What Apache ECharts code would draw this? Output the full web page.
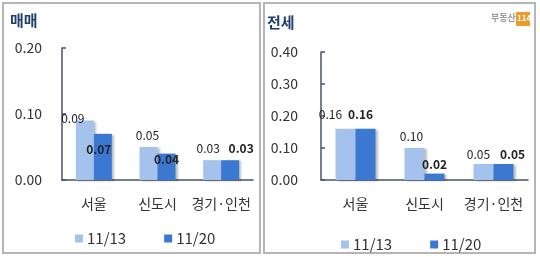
<!DOCTYPE html>
<html><head><meta charset="utf-8">
<script src="https://cdn.jsdelivr.net/npm/echarts@6/dist/echarts.min.js"></script>
<style>html,body{margin:0;padding:0;background:#fff}#c{width:540px;height:257px}</style>
</head><body><div id="c"></div>
<script>
// ---- data ----
const categories = ['서울', '신도시', '경기·인천'];
const seriesNames = ['11/13', '11/20'];
const saleTitle = '매매';
const rentTitle = '전세';
const sale1113 = [0.09, 0.05, 0.03];
const sale1120 = [0.07, 0.04, 0.03];
const rent1113 = [0.16, 0.10, 0.05];
const rent1120 = [0.16, 0.02, 0.05];
const saleTicks = { min: 0, max: 0.20, interval: 0.10 };
const rentTicks = { min: 0, max: 0.40, interval: 0.10 };

// ---- layout / style (label nudges, not data) ----
const saleOffLight = [[-12, 4], [-1, -6], [-4, -6]];
const saleOffDark = [[-4, 22], [0, 12], [11, -6]];
const rentOffLight = [[-15, -8], [-3, -6], [-5, -4]];
const rentOffDark = [[-5, -8], [0, -3], [9, -4]];
const LIGHT = '#a4c2ec', DARK = '#3a78d2', AXIS = '#44546a';
const FONT = '"Noto Sans CJK KR", "Noto Sans", sans-serif';

function items(vals, offs) {
  return vals.map((v, i) => ({ value: v, label: { offset: offs[i] } }));
}
function barSeries(name, vals, offs, gi, color, bold, w) {
  return {
    type: 'bar', name, xAxisIndex: gi, yAxisIndex: gi,
    data: items(vals, offs),
    barWidth: w, barGap: '0%',
    itemStyle: { color, shadowColor: 'rgba(0,0,0,0.25)', shadowBlur: 2, shadowOffsetX: 2, shadowOffsetY: 1 },
    label: {
      show: true, position: 'top', distance: 0,
      formatter: p => p.value.toFixed(2),
      fontFamily: FONT, fontSize: 12, color: '#222',
      fontWeight: bold ? 'bold' : 'normal'
    }
  };
}
function yAxis(gi, t, margin) {
  return {
    type: 'value', gridIndex: gi, min: t.min, max: t.max, interval: t.interval,
    axisLine: { show: true, lineStyle: { color: AXIS, width: 1.5 } },
    axisTick: { show: true, inside: true, length: 4, lineStyle: { color: AXIS, width: 1.5 } },
    splitLine: { show: false },
    axisLabel: { formatter: v => v.toFixed(2), fontFamily: FONT, fontSize: 14, color: '#333', margin }
  };
}
function xAxis(gi) {
  return {
    type: 'category', gridIndex: gi, data: categories,
    axisLine: { show: true, lineStyle: { color: AXIS, width: 1.5 } },
    axisTick: { show: false },
    axisLabel: { interval: 0, fontFamily: FONT, fontSize: 14, color: '#333', margin: 17 }
  };
}
function legend(left, top) {
  return {
    data: seriesNames, left, top, icon: 'rect', itemWidth: 8, itemHeight: 8, itemGap: 38,
    textStyle: { fontFamily: FONT, fontSize: 15, color: '#333', padding: [0, 0, 0, -1] }
  };
}

const chart = echarts.init(document.getElementById('c'), null, { renderer: 'canvas' });
chart.setOption({
  animation: false,
  grid: [
    { left: 62, right: 287, top: 48, bottom: 77 },
    { left: 321, right: 12, top: 52, bottom: 77 }
  ],
  xAxis: [xAxis(0), xAxis(1)],
  yAxis: [yAxis(0, saleTicks, 20), yAxis(1, rentTicks, 23)],
  legend: [legend(70, 226), legend(336, 232)],
  series: [
    barSeries(seriesNames[0], sale1113, saleOffLight, 0, LIGHT, false, 18),
    barSeries(seriesNames[1], sale1120, saleOffDark, 0, DARK, true, 18),
    barSeries(seriesNames[0], rent1113, rentOffLight, 1, LIGHT, false, 20),
    barSeries(seriesNames[1], rent1120, rentOffDark, 1, DARK, true, 20)
  ],
  graphic: [
    { type: 'rect', shape: { x: 3, y: 3, width: 257, height: 250 }, style: { fill: 'none', stroke: '#b5b5b5', lineWidth: 2 }, z: -1 },
    { type: 'rect', shape: { x: 264, y: 3, width: 271, height: 250 }, style: { fill: 'none', stroke: '#b5b5b5', lineWidth: 2 }, z: -1 },
    { type: 'text', left: 10, top: 13, style: { text: saleTitle, fontFamily: FONT, fontSize: 15, fontWeight: 'bold', fill: '#1f3e6e' } },
    { type: 'text', left: 267, top: 15, style: { text: rentTitle, fontFamily: FONT, fontSize: 15, fontWeight: 'bold', fill: '#1f3e6e' } },
    { type: 'text', left: 491, top: 13, style: { text: '부동산', fontFamily: FONT, fontSize: 9, fontWeight: 'bold', fill: '#9a9a9a' } },
    { type: 'rect', shape: { x: 516, y: 12, width: 14, height: 14 }, style: { fill: '#ec9a2c' } },
    { type: 'text', left: 517, top: 14, style: { text: '114', fontFamily: FONT, fontSize: 8, fontWeight: 'bold', fill: '#fff' } }
  ]
});
</script></body></html>
